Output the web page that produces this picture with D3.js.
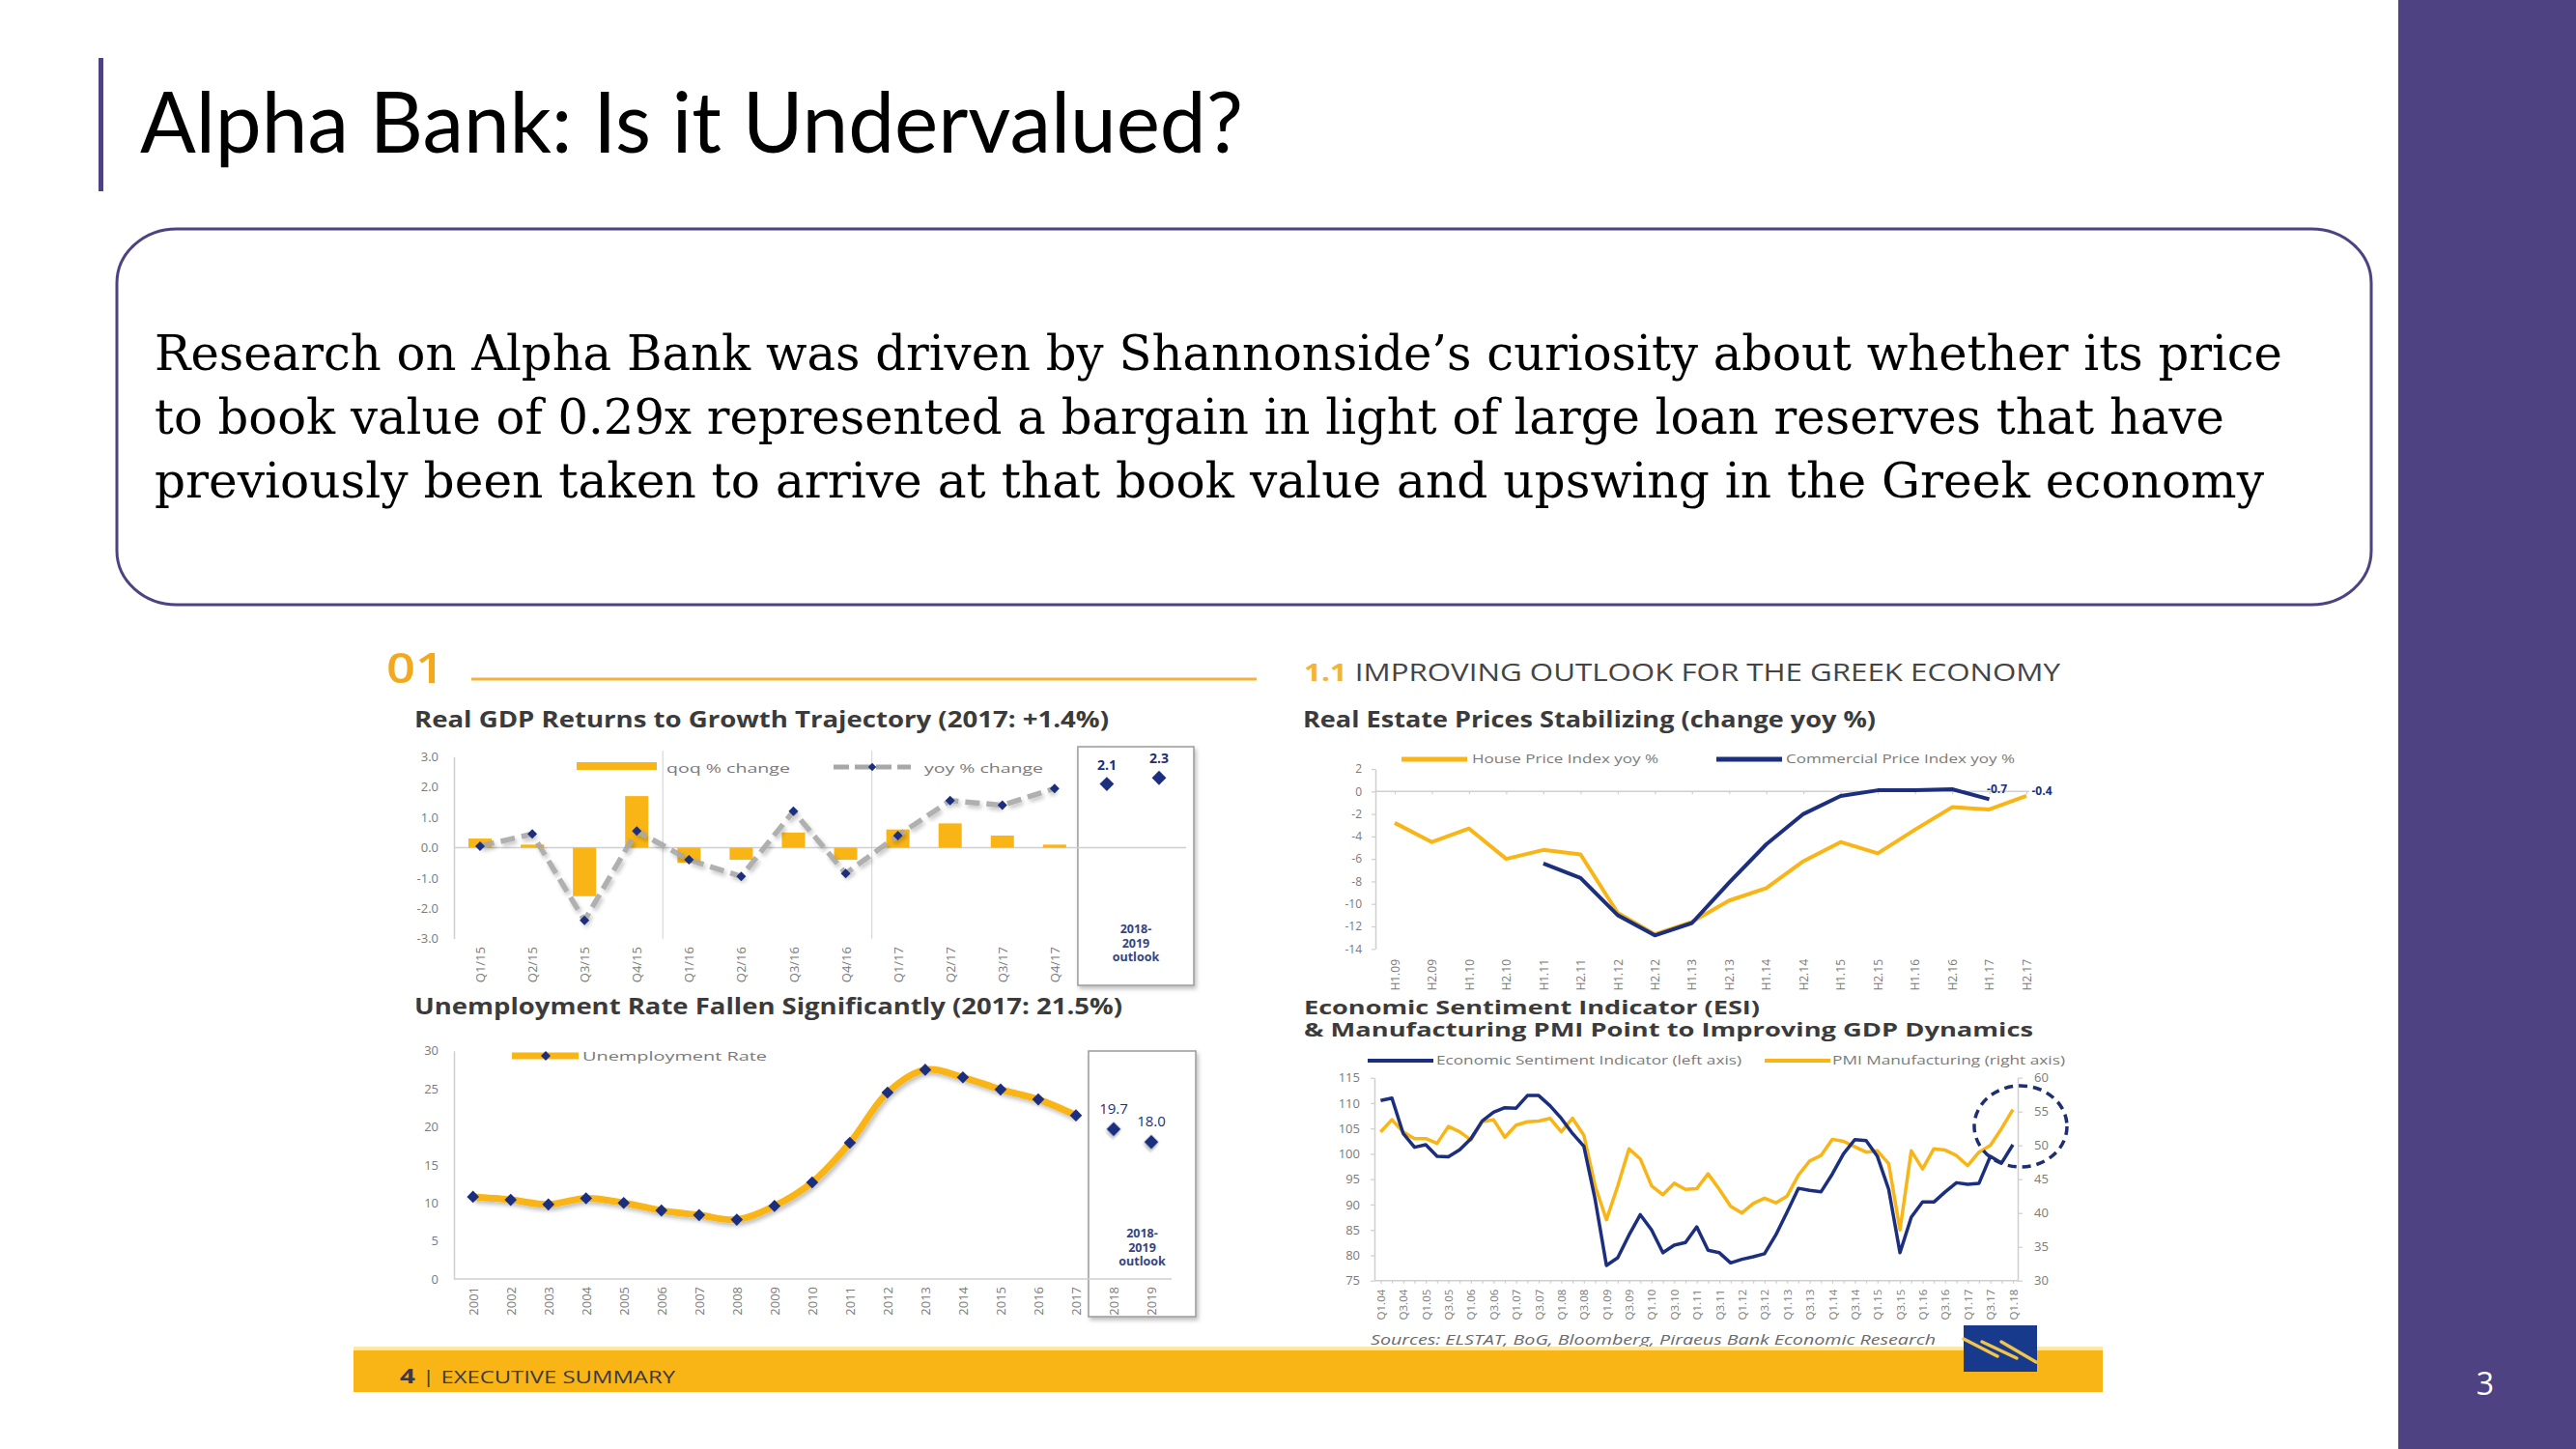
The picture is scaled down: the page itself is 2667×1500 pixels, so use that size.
<!DOCTYPE html>
<html>
<head>
<meta charset="utf-8">
<script src="https://cdn.jsdelivr.net/npm/d3@7"></script>
<style>
  body { margin: 0; background: #fff; }
  svg { display: block; }
</style>
</head>
<body>
<script>
// ---------- data ----------
// Real GDP (quarterly, %)
var gdpQuarters = ["Q1/15","Q2/15","Q3/15","Q4/15","Q1/16","Q2/16","Q3/16","Q4/16","Q1/17","Q2/17","Q3/17","Q4/17"];
var gdpQoq = [0.3, 0.1, -1.6, 1.7, -0.5, -0.4, 0.5, -0.4, 0.6, 0.8, 0.4, 0.1];
var gdpYoy = [0.05, 0.45, -2.4, 0.55, -0.4, -0.95, 1.2, -0.85, 0.4, 1.55, 1.4, 1.95];
var gdpOutlookYears = ["2018", "2019"];
var gdpOutlook = [2.1, 2.3];
var gdpTicks = [-3, -2, -1, 0, 1, 2, 3];

// Real estate prices (half-yearly, yoy %)
var reHalves = ["H1.09","H2.09","H1.10","H2.10","H1.11","H2.11","H1.12","H2.12","H1.13","H2.13","H1.14","H2.14","H1.15","H2.15","H1.16","H2.16","H1.17","H2.17"];
var reHouse = [-2.8, -4.5, -3.3, -6.0, -5.2, -5.6, -10.8, -12.7, -11.6, -9.7, -8.6, -6.2, -4.5, -5.5, -3.4, -1.4, -1.6, -0.4];
var reCommercial = [null, null, null, null, -6.4, -7.7, -11.0, -12.8, -11.7, -8.1, -4.7, -2.0, -0.4, 0.1, 0.1, 0.2, -0.7, null];
var reTicks = [-14, -12, -10, -8, -6, -4, -2, 0, 2];

// Unemployment rate (%)
var unYears = ["2001","2002","2003","2004","2005","2006","2007","2008","2009","2010","2011","2012","2013","2014","2015","2016","2017"];
var unRate = [10.8, 10.4, 9.8, 10.6, 10.0, 9.0, 8.4, 7.8, 9.6, 12.7, 17.9, 24.5, 27.5, 26.5, 24.9, 23.6, 21.5];
var unOutlookYears = ["2018", "2019"];
var unOutlook = [19.7, 18.0];
var unTicks = [0, 5, 10, 15, 20, 25, 30];

// ESI (left axis) and PMI (right axis), quarterly Q1.04 .. Q1.18
var esiLabels = ["Q1.04","Q3.04","Q1.05","Q3.05","Q1.06","Q3.06","Q1.07","Q3.07","Q1.08","Q3.08","Q1.09","Q3.09","Q1.10","Q3.10","Q1.11","Q3.11","Q1.12","Q3.12","Q1.13","Q3.13","Q1.14","Q3.14","Q1.15","Q3.15","Q1.16","Q3.16","Q1.17","Q3.17","Q1.18"];
var esiValues = [110.5,111.0,104.0,101.3,101.8,99.5,99.4,100.8,103.0,106.5,108.2,109.1,109.0,111.5,111.5,109.5,107.0,104.0,101.5,91.0,78.0,79.5,84.0,88.0,85.0,80.5,82.0,82.5,85.6,81.0,80.5,78.5,79.2,79.7,80.3,84.0,88.5,93.2,92.8,92.5,96.0,100.0,102.8,102.6,99.5,93.0,80.5,87.5,90.5,90.5,92.5,94.3,94.0,94.2,99.5,98.2,101.8];
var pmiValues = [52.0,53.8,52.0,51.0,51.0,50.3,52.8,52.0,50.8,53.5,53.8,51.2,53.0,53.5,53.6,54.0,52.0,54.0,51.5,44.0,39.0,44.0,49.5,48.0,44.0,42.7,44.4,43.5,43.6,45.8,43.5,41.0,40.0,41.4,42.2,41.5,42.5,45.6,47.7,48.5,50.9,50.6,49.8,49.0,49.2,47.3,37.5,49.2,46.5,49.5,49.3,48.5,47.0,49.0,50.0,52.5,55.3];
var esiTicks = [75, 80, 85, 90, 95, 100, 105, 110, 115];
var pmiTicks = [30, 35, 40, 45, 50, 55, 60];

var bodyLines = [
  "Research on Alpha Bank was driven by Shannonside\u2019s curiosity about whether its price",
  "to book value of 0.29x represented a bargain in light of large loan reserves that have",
  "previously been taken to arrive at that book value and upswing in the Greek economy"
];

// ---------- styles ----------
var purple = "#4f4282",
    yellow = "#f9b515",
    navy = "#1c2f7e",
    axisGray = "#cfcfcf",
    tickGray = "#7a7a7a",
    titleGray = "#3b3b3b",
    chartFont = "'Open Sans', sans-serif";

var svg = d3.select("body").append("svg")
  .attr("width", 2667)
  .attr("height", 1500);

var defs = svg.append("defs");
defs.append("filter").attr("id", "shadow")
  .attr("x", "-10%").attr("y", "-10%").attr("width", "130%").attr("height", "140%")
  .append("feDropShadow")
  .attr("dx", 2).attr("dy", 3).attr("stdDeviation", 2)
  .attr("flood-color", "#000").attr("flood-opacity", 0.25);

function fit(sel, w) {
  return sel.attr("textLength", w).attr("lengthAdjust", "spacingAndGlyphs");
}

function styleAxis(g, size) {
  g.attr("font-family", chartFont).attr("font-size", size);
  g.selectAll("path.domain").attr("stroke", axisGray).attr("stroke-width", 1.5);
  g.selectAll(".tick line").attr("stroke", axisGray).attr("stroke-width", 1.2);
  g.selectAll(".tick text").attr("fill", tickGray);
}

function rotateLabels(g, gap) {
  g.selectAll(".tick text")
    .attr("transform", "rotate(-90)")
    .attr("text-anchor", "end")
    .attr("x", -gap)
    .attr("y", 0)
    .attr("dy", "0.35em");
}

var diamond = function(size) {
  return d3.symbol().type(d3.symbolSquare).size(size)();
};

function chartTitle(x, y, text, w, size) {
  fit(svg.append("text")
    .attr("x", x).attr("y", y)
    .attr("font-family", chartFont)
    .attr("font-weight", "bold")
    .attr("font-size", size || 23)
    .attr("fill", titleGray)
    .text(text), w);
}

function legendText(x, y, text, w) {
  fit(svg.append("text")
    .attr("x", x).attr("y", y)
    .attr("font-family", chartFont)
    .attr("font-size", 13)
    .attr("fill", tickGray)
    .text(text), w);
}

// ---------- slide frame ----------
svg.append("rect")
  .attr("x", 2483).attr("y", 0)
  .attr("width", 184).attr("height", 1500)
  .attr("fill", purple);

svg.append("text")
  .attr("x", 2573).attr("y", 1444)
  .attr("text-anchor", "middle")
  .attr("font-family", chartFont)
  .attr("font-size", 32)
  .attr("fill", "#fff")
  .text("3");

svg.append("rect")
  .attr("x", 102).attr("y", 60)
  .attr("width", 5).attr("height", 138)
  .attr("fill", purple);

fit(svg.append("text")
  .attr("x", 145).attr("y", 158)
  .attr("font-family", "Lato, sans-serif")
  .attr("font-size", 88)
  .attr("fill", "#000")
  .text("Alpha Bank: Is it Undervalued?"), 1142);

svg.append("rect")
  .attr("x", 121).attr("y", 237)
  .attr("width", 2334).attr("height", 389)
  .attr("rx", 62).attr("ry", 56)
  .attr("fill", "#fff")
  .attr("stroke", purple)
  .attr("stroke-width", 3);

var bodyWidths = [2203, 2143, 2184];
svg.selectAll("text.body")
  .data(bodyLines)
  .enter()
  .append("text")
  .attr("class", "body")
  .attr("x", 160)
  .attr("y", function(d, i) { return 383 + i * 66; })
  .attr("font-family", "'DejaVu Serif', serif")
  .attr("font-size", 50)
  .attr("fill", "#000")
  .attr("textLength", function(d, i) { return bodyWidths[i]; })
  .attr("lengthAdjust", "spacingAndGlyphs")
  .text(function(d) { return d; });

// ---------- report page header ----------
fit(svg.append("text")
  .attr("x", 400).attr("y", 707)
  .attr("font-family", chartFont)
  .attr("font-weight", 600)
  .attr("font-size", 44)
  .attr("fill", "#f2a91e")
  .text("01"), 60);

svg.append("line")
  .attr("x1", 488).attr("x2", 1301)
  .attr("y1", 703).attr("y2", 703)
  .attr("stroke", "#f3b234")
  .attr("stroke-width", 3);

var sec = svg.append("text")
  .attr("x", 1350).attr("y", 705)
  .attr("font-family", chartFont)
  .attr("font-size", 25)
  .attr("fill", "#444");
sec.append("tspan").attr("fill", "#f5b335").attr("font-weight", "bold").text("1.1 ");
sec.append("tspan").text("IMPROVING OUTLOOK FOR THE GREEK ECONOMY");
fit(sec, 783);

// ---------- chart 1: Real GDP ----------
chartTitle(429, 753, "Real GDP Returns to Growth Trajectory (2017: +1.4%)", 719);

var gdpX = d3.scalePoint(gdpQuarters.concat(gdpOutlookYears), [497, 1200]);
var gdpY = d3.scaleLinear([-3, 3], [971.7, 783.3]);

// outlook box
svg.append("rect")
  .attr("x", gdpX("2018") - 30).attr("y", 773)
  .attr("width", gdpX("2019") - gdpX("2018") + 66).attr("height", 247)
  .attr("fill", "#fff")
  .attr("stroke", "#9a9a9a")
  .attr("stroke-width", 1.5)
  .attr("filter", "url(#shadow)");

// year separators
[["Q4/15", "Q1/16"], ["Q4/16", "Q1/17"]].forEach(function(p) {
  var sx = (gdpX(p[0]) + gdpX(p[1])) / 2;
  svg.append("line")
    .attr("x1", sx).attr("x2", sx)
    .attr("y1", gdpY(3) - 6).attr("y2", gdpY(-3))
    .attr("stroke", "#d8d8d8").attr("stroke-width", 1.2);
});

var gAxisY = svg.append("g")
  .attr("transform", "translate(470,0)")
  .call(d3.axisLeft(gdpY).tickValues(gdpTicks).tickSize(0).tickPadding(16)
    .tickFormat(function(d) { return d.toFixed(1); }));
styleAxis(gAxisY, 13);

svg.append("line")
  .attr("x1", 470).attr("x2", 1228)
  .attr("y1", gdpY(0)).attr("y2", gdpY(0))
  .attr("stroke", axisGray).attr("stroke-width", 1.5);

var gAxisX = svg.append("g")
  .attr("transform", "translate(0,978)")
  .call(d3.axisBottom(d3.scalePoint(gdpQuarters, [gdpX(gdpQuarters[0]), gdpX(gdpQuarters[11])])).tickSize(0));
styleAxis(gAxisX, 13);
gAxisX.select(".domain").remove();
rotateLabels(gAxisX, 2);

svg.selectAll("rect.qoq")
  .data(gdpQoq)
  .enter()
  .append("rect")
  .attr("class", "qoq")
  .attr("x", function(d, i) { return gdpX(gdpQuarters[i]) - 12; })
  .attr("y", function(d) { return gdpY(Math.max(0, d)); })
  .attr("width", 24)
  .attr("height", function(d) { return Math.abs(gdpY(d) - gdpY(0)); })
  .attr("fill", yellow);

var yoyLine = d3.line()
  .x(function(d, i) { return gdpX(gdpQuarters[i]); })
  .y(function(d) { return gdpY(d); });

svg.append("path")
  .datum(gdpYoy)
  .attr("d", yoyLine)
  .attr("fill", "none")
  .attr("stroke", "#a8a8a8")
  .attr("stroke-width", 5.5)
  .attr("stroke-dasharray", "15,7")
  .attr("opacity", 0.9)
  .attr("filter", "url(#shadow)");

svg.selectAll("path.yoyMark")
  .data(gdpYoy)
  .enter()
  .append("path")
  .attr("class", "yoyMark")
  .attr("d", diamond(50))
  .attr("transform", function(d, i) { return "translate(" + gdpX(gdpQuarters[i]) + "," + gdpY(d) + ") rotate(45)"; })
  .attr("fill", navy);

svg.selectAll("path.gdpOut")
  .data(gdpOutlook)
  .enter()
  .append("path")
  .attr("class", "gdpOut")
  .attr("d", diamond(110))
  .attr("transform", function(d, i) { return "translate(" + gdpX(gdpOutlookYears[i]) + "," + gdpY(d) + ") rotate(45)"; })
  .attr("fill", navy);

svg.selectAll("text.gdpOutLbl")
  .data(gdpOutlook)
  .enter()
  .append("text")
  .attr("class", "gdpOutLbl")
  .attr("x", function(d, i) { return gdpX(gdpOutlookYears[i]); })
  .attr("y", function(d) { return gdpY(d) - 15; })
  .attr("text-anchor", "middle")
  .attr("font-family", chartFont)
  .attr("font-weight", "bold")
  .attr("font-size", 14)
  .attr("fill", navy)
  .text(function(d) { return d.toFixed(1); });

var gdpOutText = svg.append("text")
  .attr("text-anchor", "middle")
  .attr("font-family", chartFont)
  .attr("font-weight", "bold")
  .attr("font-size", 12.5)
  .attr("fill", "#34457f");
["2018-", "2019", "outlook"].forEach(function(t, i) {
  gdpOutText.append("tspan")
    .attr("x", (gdpX("2018") + gdpX("2019")) / 2 + 3)
    .attr("y", 966 + i * 14.5)
    .text(t);
});

// legend
svg.append("rect")
  .attr("x", 597).attr("y", 789)
  .attr("width", 83).attr("height", 8)
  .attr("fill", yellow);
legendText(690, 800, "qoq % change", 128);
svg.append("line")
  .attr("x1", 863).attr("x2", 943)
  .attr("y1", 794).attr("y2", 794)
  .attr("stroke", "#a8a8a8").attr("stroke-width", 5)
  .attr("stroke-dasharray", "16,6");
svg.append("path")
  .attr("d", diamond(36))
  .attr("transform", "translate(903,794) rotate(45)")
  .attr("fill", navy);
legendText(957, 800, "yoy % change", 123);

// ---------- chart 2: Real estate ----------
chartTitle(1349, 753, "Real Estate Prices Stabilizing (change yoy %)", 593);

var reX = d3.scalePoint(reHalves, [1444, 2098]);
var reY = d3.scaleLinear([-14, 2], [982.3, 796]);

var rAxisY = svg.append("g")
  .attr("transform", "translate(1424,0)")
  .call(d3.axisLeft(reY).tickValues(reTicks).tickSize(4).tickSizeOuter(0).tickPadding(10));
styleAxis(rAxisY, 12);
rAxisY.selectAll(".tick text").text(function(d) { return d < 0 ? "-" + Math.abs(d) : d; });

var rZero = svg.append("g")
  .attr("transform", "translate(0," + reY(0) + ")")
  .call(d3.axisBottom(reX).tickSize(3).tickFormat(""));
styleAxis(rZero, 12);
rZero.select(".domain").attr("d", "M1424,0H2101");

var rAxisX = svg.append("g")
  .attr("transform", "translate(0,991)")
  .call(d3.axisBottom(reX).tickSize(0));
styleAxis(rAxisX, 12);
rAxisX.select(".domain").remove();
rotateLabels(rAxisX, 2);

var reLine = d3.line()
  .defined(function(d) { return d !== null; })
  .x(function(d, i) { return reX(reHalves[i]); })
  .y(function(d) { return reY(d); });

svg.append("path")
  .datum(reHouse)
  .attr("d", reLine)
  .attr("fill", "none")
  .attr("stroke", yellow)
  .attr("stroke-width", 4)
  .attr("stroke-linejoin", "round");

svg.append("path")
  .datum(reCommercial)
  .attr("d", reLine)
  .attr("fill", "none")
  .attr("stroke", navy)
  .attr("stroke-width", 4)
  .attr("stroke-linejoin", "round");

svg.append("text")
  .attr("x", reX("H1.17") + 8).attr("y", reY(0) + 2)
  .attr("text-anchor", "middle")
  .attr("font-family", chartFont).attr("font-size", 12).attr("font-weight", "bold")
  .attr("fill", navy)
  .text(reCommercial[16].toFixed(1));
svg.append("text")
  .attr("x", reX("H2.17") + 16).attr("y", reY(0) + 4)
  .attr("text-anchor", "middle")
  .attr("font-family", chartFont).attr("font-size", 12).attr("font-weight", "bold")
  .attr("fill", navy)
  .text(reHouse[17].toFixed(1));

svg.append("line")
  .attr("x1", 1451).attr("x2", 1519).attr("y1", 786).attr("y2", 786)
  .attr("stroke", yellow).attr("stroke-width", 5);
legendText(1524, 790, "House Price Index yoy %", 193);
svg.append("line")
  .attr("x1", 1777).attr("x2", 1845).attr("y1", 786).attr("y2", 786)
  .attr("stroke", navy).attr("stroke-width", 5);
legendText(1849, 790, "Commercial Price Index yoy %", 237);

// ---------- chart 3: Unemployment ----------
chartTitle(429, 1050, "Unemployment Rate Fallen Significantly (2017: 21.5%)", 733);

var unX = d3.scalePoint(unYears.concat(unOutlookYears), [489.7, 1192]);
var unY = d3.scaleLinear([0, 30], [1324, 1087.7]);

svg.append("rect")
  .attr("x", unX("2018") - 26).attr("y", 1088)
  .attr("width", unX("2019") - unX("2018") + 72).attr("height", 275)
  .attr("fill", "#fff")
  .attr("stroke", "#9a9a9a")
  .attr("stroke-width", 1.5)
  .attr("filter", "url(#shadow)");

var uAxisY = svg.append("g")
  .attr("transform", "translate(470,0)")
  .call(d3.axisLeft(unY).tickValues(unTicks).tickSize(0).tickPadding(16));
styleAxis(uAxisY, 13);

svg.append("line")
  .attr("x1", 470).attr("x2", 1213)
  .attr("y1", unY(0)).attr("y2", unY(0))
  .attr("stroke", axisGray).attr("stroke-width", 1.5);

var uAxisX = svg.append("g")
  .attr("transform", "translate(0,1330)")
  .call(d3.axisBottom(unX).tickSize(0));
styleAxis(uAxisX, 13);
uAxisX.select(".domain").remove();
rotateLabels(uAxisX, 2);

var unLine = d3.line()
  .curve(d3.curveCatmullRom.alpha(0.5))
  .x(function(d, i) { return unX(unYears[i]); })
  .y(function(d) { return unY(d); });

svg.append("path")
  .datum(unRate)
  .attr("d", unLine)
  .attr("fill", "none")
  .attr("stroke", yellow)
  .attr("stroke-width", 7)
  .attr("stroke-linejoin", "round")
  .attr("filter", "url(#shadow)");

svg.selectAll("path.unMark")
  .data(unRate)
  .enter()
  .append("path")
  .attr("class", "unMark")
  .attr("d", diamond(80))
  .attr("transform", function(d, i) { return "translate(" + unX(unYears[i]) + "," + unY(d) + ") rotate(45)"; })
  .attr("fill", navy);

svg.selectAll("path.unOut")
  .data(unOutlook)
  .enter()
  .append("path")
  .attr("class", "unOut")
  .attr("d", diamond(110))
  .attr("transform", function(d, i) { return "translate(" + unX(unOutlookYears[i]) + "," + unY(d) + ") rotate(45)"; })
  .attr("fill", navy)
  .attr("filter", "url(#shadow)");

svg.selectAll("text.unOutLbl")
  .data(unOutlook)
  .enter()
  .append("text")
  .attr("class", "unOutLbl")
  .attr("x", function(d, i) { return unX(unOutlookYears[i]); })
  .attr("y", function(d) { return unY(d) - 16; })
  .attr("text-anchor", "middle")
  .attr("font-family", chartFont)
  .attr("font-size", 15)
  .attr("fill", navy)
  .text(function(d) { return d.toFixed(1); });

var unOutText = svg.append("text")
  .attr("text-anchor", "middle")
  .attr("font-family", chartFont)
  .attr("font-weight", "bold")
  .attr("font-size", 12.5)
  .attr("fill", "#34457f");
["2018-", "2019", "outlook"].forEach(function(t, i) {
  unOutText.append("tspan")
    .attr("x", (unX("2018") + unX("2019")) / 2 + 10)
    .attr("y", 1281 + i * 14.5)
    .text(t);
});

svg.append("line")
  .attr("x1", 530).attr("x2", 599).attr("y1", 1093).attr("y2", 1093)
  .attr("stroke", yellow).attr("stroke-width", 7);
svg.append("path")
  .attr("d", diamond(50))
  .attr("transform", "translate(565,1093) rotate(45)")
  .attr("fill", navy);
legendText(603, 1098, "Unemployment Rate", 191);

// ---------- chart 4: ESI & PMI ----------
chartTitle(1350, 1050, "Economic Sentiment Indicator (ESI)", 472, 20);
chartTitle(1350, 1073, "& Manufacturing PMI Point to Improving GDP Dynamics", 755, 20);

var esiX = d3.scaleLinear([0, esiValues.length - 1], [1429.4, 2084]);
var esiY = d3.scaleLinear([75, 115], [1325.7, 1115.7]);
var pmiY = d3.scaleLinear([30, 60], [1325.7, 1115.7]);

var eAxisL = svg.append("g")
  .attr("transform", "translate(1423,0)")
  .call(d3.axisLeft(esiY).tickValues(esiTicks).tickSize(4).tickSizeOuter(0).tickPadding(11));
styleAxis(eAxisL, 13);

var eAxisR = svg.append("g")
  .attr("transform", "translate(2089,0)")
  .call(d3.axisRight(pmiY).tickValues(pmiTicks).tickSize(5).tickSizeOuter(0).tickPadding(12));
styleAxis(eAxisR, 13);

var eAxisX = svg.append("g")
  .attr("transform", "translate(0,1325.7)")
  .call(d3.axisBottom(esiX).tickValues(d3.range(esiValues.length)).tickSize(3)
    .tickFormat(function(i) { return i % 2 === 0 ? esiLabels[i / 2] : ""; }));
styleAxis(eAxisX, 11.5);
eAxisX.select(".domain").attr("d", "M1423,0H2089");
rotateLabels(eAxisX, 9);

svg.append("path")
  .datum(pmiValues)
  .attr("d", d3.line()
    .x(function(d, i) { return esiX(i); })
    .y(function(d) { return pmiY(d); }))
  .attr("fill", "none")
  .attr("stroke", yellow)
  .attr("stroke-width", 3.5)
  .attr("stroke-linejoin", "round");

svg.append("path")
  .datum(esiValues)
  .attr("d", d3.line()
    .x(function(d, i) { return esiX(i); })
    .y(function(d) { return esiY(d); }))
  .attr("fill", "none")
  .attr("stroke", navy)
  .attr("stroke-width", 3.5)
  .attr("stroke-linejoin", "round");

svg.append("ellipse")
  .attr("cx", 2092).attr("cy", 1166)
  .attr("rx", 48).attr("ry", 42)
  .attr("fill", "none")
  .attr("stroke", "#1d2f6e")
  .attr("stroke-width", 3.5)
  .attr("stroke-dasharray", "9,6");

svg.append("line")
  .attr("x1", 1416).attr("x2", 1484).attr("y1", 1098).attr("y2", 1098)
  .attr("stroke", navy).attr("stroke-width", 4);
legendText(1487, 1102, "Economic Sentiment Indicator (left axis)", 316);
svg.append("line")
  .attr("x1", 1827).attr("x2", 1895).attr("y1", 1098).attr("y2", 1098)
  .attr("stroke", yellow).attr("stroke-width", 4);
legendText(1897, 1102, "PMI Manufacturing (right axis)", 241);

// ---------- report page footer ----------
fit(svg.append("text")
  .attr("x", 1419).attr("y", 1392)
  .attr("font-family", chartFont)
  .attr("font-style", "italic")
  .attr("font-size", 15)
  .attr("fill", "#6a6a6a")
  .text("Sources: ELSTAT, BoG, Bloomberg, Piraeus Bank Economic Research"), 585);

svg.append("rect")
  .attr("x", 366).attr("y", 1394)
  .attr("width", 1811).attr("height", 4)
  .attr("fill", "#fde7a8");
svg.append("rect")
  .attr("x", 366).attr("y", 1398)
  .attr("width", 1811).attr("height", 43)
  .attr("fill", yellow);

var foot = svg.append("text")
  .attr("x", 414).attr("y", 1432)
  .attr("font-family", chartFont)
  .attr("font-size", 18)
  .attr("fill", "#3a3a4a");
foot.append("tspan").attr("font-weight", "bold").attr("font-size", 21).text("4 ");
foot.append("tspan").text("| EXECUTIVE SUMMARY");
fit(foot, 285);

// bank logo
var logo = svg.append("g").attr("transform", "translate(2033,1372)");
logo.append("rect")
  .attr("width", 76).attr("height", 48)
  .attr("fill", "#173a8c");
[[0, 14, 35, 32], [19, 17, 55, 34], [39, 17, 75, 38]].forEach(function(s) {
  logo.append("line")
    .attr("x1", s[0]).attr("y1", s[1]).attr("x2", s[2]).attr("y2", s[3])
    .attr("stroke", "#f2c44a").attr("stroke-width", 3.5)
    .attr("stroke-linecap", "round");
});
</script>
</body>
</html>
